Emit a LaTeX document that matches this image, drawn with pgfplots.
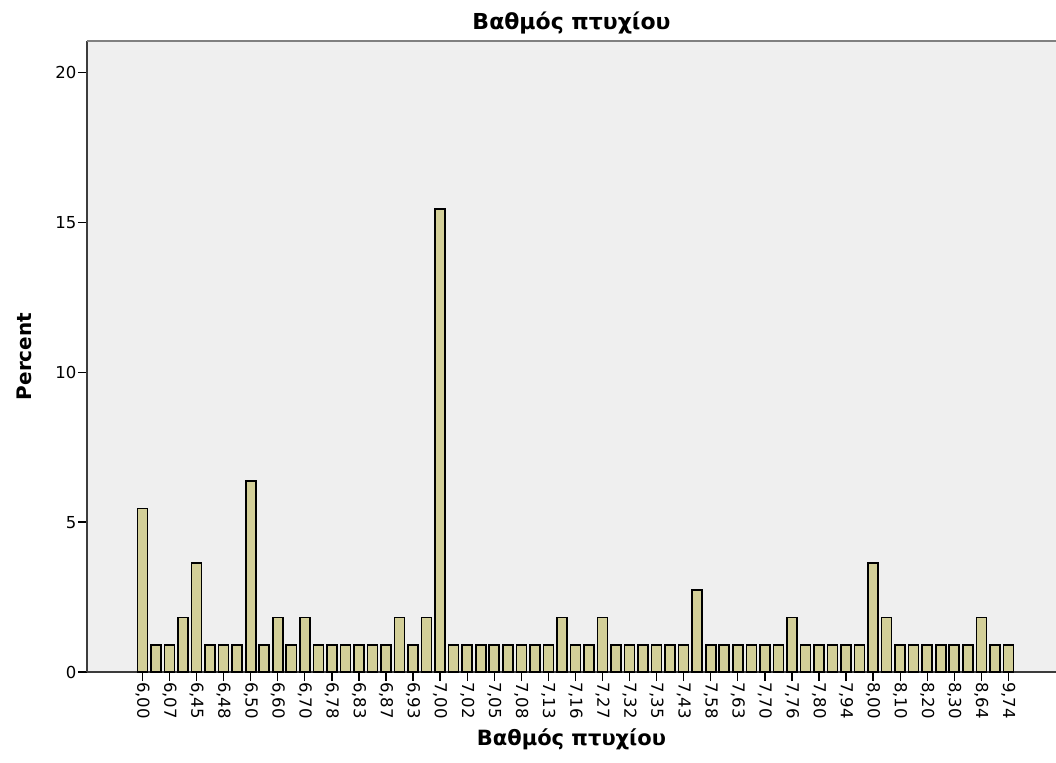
\documentclass[border=0pt]{standalone}
\usepackage{pgfplots}
\pgfplotsset{compat=1.18}
\usepackage{fontspec}
\setmainfont{DejaVu Sans}
\definecolor{barfill}{RGB}{211,207,152}
\definecolor{plotbg}{RGB}{239,239,239}
\definecolor{topline}{RGB}{128,128,128}
\definecolor{axline}{RGB}{60,60,60}
\pgfplotstableread{
x y
0 5.455
1 0.909
2 0.909
3 1.818
4 3.636
5 0.909
6 0.909
7 0.909
8 6.364
9 0.909
10 1.818
11 0.909
12 1.818
13 0.909
14 0.909
15 0.909
16 0.909
17 0.909
18 0.909
19 1.818
20 0.909
21 1.818
22 15.455
23 0.909
24 0.909
25 0.909
26 0.909
27 0.909
28 0.909
29 0.909
30 0.909
31 1.818
32 0.909
33 0.909
34 1.818
35 0.909
36 0.909
37 0.909
38 0.909
39 0.909
40 0.909
41 2.727
42 0.909
43 0.909
44 0.909
45 0.909
46 0.909
47 0.909
48 1.818
49 0.909
50 0.909
51 0.909
52 0.909
53 0.909
54 3.636
55 1.818
56 0.909
57 0.909
58 0.909
59 0.909
60 0.909
61 0.909
62 1.818
63 0.909
64 0.909
}\grades
\begin{document}
\begin{tikzpicture}[x=1pt,y=1pt]
\path[use as bounding box] (-87,-90) rectangle (969,672);
\begin{axis}[
  at={(0,0)}, anchor=south west,
  scale only axis, width=969pt, height=631pt,
  xmin=-4.10, xmax=67.52, ymin=0, ymax=21.05,
  enlargelimits=false,
  axis x line*=bottom, axis y line*=left,
  axis line style={-, draw=axline, line width=1.5pt},
  axis background/.style={fill=plotbg},
  tick align=outside, major tick length=9pt,
  tick style={black, line width=1.3pt},
  xtick={0,2,...,64},
  xticklabels={{6,00},{6,07},{6,45},{6,48},{6,50},{6,60},{6,70},{6,78},{6,83},{6,87},{6,93},{7,00},{7,02},{7,05},{7,08},{7,13},{7,16},{7,27},{7,32},{7,35},{7,43},{7,58},{7,63},{7,70},{7,76},{7,80},{7,94},{8,00},{8,10},{8,20},{8,30},{8,64},{9,74}},
  ytick={0,5,10,15,20},
  /pgf/number format/assume math mode=true,
  ticklabel style={font=\fontsize{16.5}{19}\selectfont, text=black},
  x tick label style={rotate=-90, anchor=west, inner sep=1pt},
  y tick label style={inner sep=1.5pt},
  title={Βαθμός πτυχίου},
  title style={font=\bfseries\fontsize{22}{26}\selectfont, at={(axis description cs:0.5,1)}, anchor=base, yshift=5pt},
  xlabel={Βαθμός πτυχίου},
  xlabel style={font=\bfseries\fontsize{21}{25}\selectfont, at={(axis description cs:0.5,0)}, anchor=base, yshift=-73pt},
  ylabel={Percent},
  ylabel style={font=\bfseries\fontsize{20}{24}\selectfont, at={(axis description cs:0,0.5)}, anchor=base, yshift=55pt},
]
\addplot[ybar, bar width=0.74, fill=barfill, draw=black, line width=1.6pt] table[x=x,y=y] {\grades};
\draw[topline, line width=2pt] (rel axis cs:0,1) -- (rel axis cs:1,1);
\end{axis}
\end{tikzpicture}
\end{document}
